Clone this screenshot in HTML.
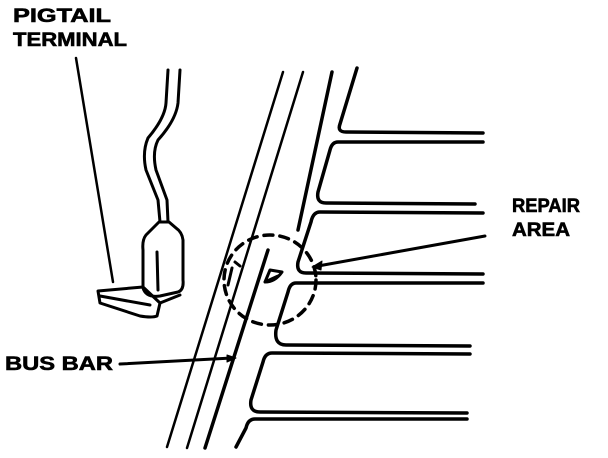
<!DOCTYPE html>
<html><head><style>
html,body{margin:0;padding:0;background:#fff;}
svg{display:block}
text{font-family:"Liberation Sans",sans-serif;font-weight:bold;font-size:19px;fill:#000;stroke:#000;stroke-width:0.6}
</style></head><body>
<svg width="608" height="458" viewBox="0 0 608 458" xmlns="http://www.w3.org/2000/svg">
<text x="13" y="22" textLength="98" lengthAdjust="spacingAndGlyphs">PIGTAIL</text>
<text x="13" y="46" textLength="114" lengthAdjust="spacingAndGlyphs">TERMINAL</text>
<text x="512" y="212" textLength="68" lengthAdjust="spacingAndGlyphs">REPAIR</text>
<text x="512" y="236" textLength="58" lengthAdjust="spacingAndGlyphs">AREA</text>
<text x="5" y="370" textLength="108" lengthAdjust="spacingAndGlyphs">BUS BAR</text>
<g fill="none" stroke="#000" stroke-linecap="round" stroke-linejoin="round">
<line x1="76" y1="58" x2="113" y2="282" stroke-width="2.5"/>
<line x1="120" y1="364" x2="232" y2="358" stroke-width="3"/>
<path d="M227 355 L236 358 L227 362Z" fill="#000"/>
<path d="M485 236 L318 266" stroke-width="3"/>
<path d="M312 267 L322 261 L321 270Z" fill="#000"/>
<line x1="283" y1="72" x2="167" y2="447" stroke-width="2.5"/>
<line x1="303" y1="72" x2="187" y2="448" stroke-width="2.5"/>
<line x1="332" y1="72" x2="298" y2="230" stroke-width="3.5"/>
<line x1="268" y1="250" x2="205" y2="448" stroke-width="3.5"/>
<g stroke-width="3.5">
<path d="M357 68 L340 124 Q337 132 346 132 L483 133"/>
<path d="M483 142 L338 142 Q332 142 330 150 L318 192 Q316 203 326 203 L475 204"/>
<path d="M483 213 L320 212 Q313 212 311 222 L298 262 Q296 273 306 273 L483 274"/>
<path d="M483 283 L296 283 Q290 283 288 292 L276 330 Q274 345 286 345 L470 346"/>
<path d="M470 354 L272 353 Q265 353 263 362 L251 400 Q249 412 260 412 L467 413"/>
<path d="M467 419 L255 419 Q248 419 246 428 L236 447"/>
</g>
<ellipse cx="270" cy="280" rx="46" ry="45" stroke-width="3.5" stroke-dasharray="9 7"/>
<path d="M232 268 L228 285 M240 266 L235 262" stroke-width="3"/>
<path d="M265 282 L270 270 L282 272 Q275 282 265 282 M265 282 L278 276" stroke-width="3"/>
<path d="M168 70 L166 103 Q165 118 148 138 Q142 152 146 170 L158 200 L160 222" stroke-width="3"/>
<path d="M180 70 L178 103 Q176 120 158 140 Q152 152 156 170 L167 200 L168 222" stroke-width="3"/>
<path d="M159 222 L146 235 Q142 240 143 250 L143 288 Q146 298 160 296 L178 292 Q184 290 183 280 L183 240 Q182 232 176 228 L169 222 Z" stroke-width="3"/>
<line x1="157" y1="252" x2="158" y2="290" stroke-width="3"/>
<path d="M98 291 L143 287 L160 303 L157 316 Q152 318 140 316 L100 303 Z" stroke-width="3"/>
<path d="M100 296 L150 305 M160 303 L180 295" stroke-width="3"/>
</g>
</svg>
</body></html>
